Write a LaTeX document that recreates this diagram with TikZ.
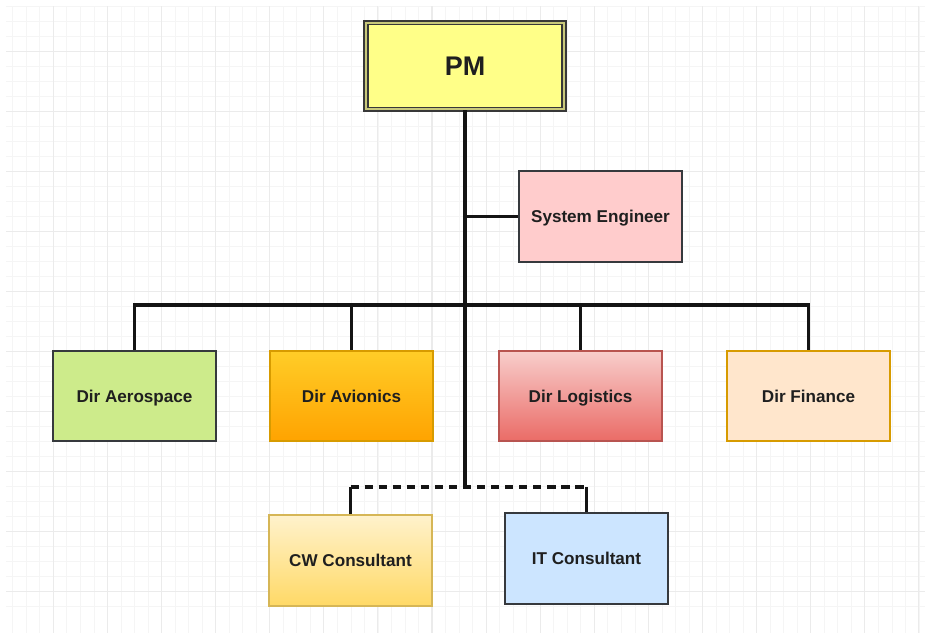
\documentclass[tikz,border=0pt]{standalone}
\usepackage{fontspec}
\setmainfont{Liberation Sans}
\begin{document}
\begin{tikzpicture}[x=0.03cm, y=-0.03cm,
  gridminor/.style={draw=black!4, line width=0.6pt},
  gridmajor/.style={draw=black!8, line width=0.9pt},
  box/.style={rectangle, line width=1.7pt, minimum width=4.89cm, minimum height=2.72cm,
    font=\bfseries\fontsize{14.6}{16}\selectfont, text=black!88, inner sep=2pt,
    text height=10.4pt, text depth=0pt},
  conn/.style={line width=2.7pt, draw=black!92},
  dashconn/.style={conn, dash pattern=on 7pt off 5pt}
]
\definecolor{pmfill}{HTML}{FFFF88}
\definecolor{pmgap}{HTML}{C8C87A}
\definecolor{darkline}{HTML}{36393D}
\definecolor{sysfill}{HTML}{FFCCCC}
\definecolor{aerofill}{HTML}{CDEB8B}
\definecolor{finfill}{HTML}{FFE6CC}
\definecolor{orangeline}{HTML}{D79B00}
\definecolor{redline}{HTML}{B85450}
\definecolor{goldline}{HTML}{D6B656}
\definecolor{itfill}{HTML}{CCE5FF}

% page and background grid
\useasboundingbox (0,0) rectangle (928,636);
\fill[white] (0,0) rectangle (928,636);
\foreach \i in {1,...,68} {
  \pgfmathsetmacro\gx{-0.8+13.525*\i}
  \draw[gridminor] (\gx,6) -- (\gx,633);
}
\foreach \j in {1,...,41} {
  \pgfmathsetmacro\gy{-8.3+15*\j}
  \draw[gridminor] (6,\gy) -- (925,\gy);
}
\foreach \i in {4,8,...,68} {
  \pgfmathsetmacro\gx{-0.8+13.525*\i}
  \draw[gridmajor] (\gx,6) -- (\gx,633);
}
\foreach \j in {4,8,...,40} {
  \pgfmathsetmacro\gy{-8.3+15*\j}
  \draw[gridmajor] (6,\gy) -- (925,\gy);
}

% boxes
\node[box, draw=black!78, double=pmgap, double distance=1.8pt, line width=1.4pt,
  fill=pmfill, minimum width=5.95cm, minimum height=2.6cm,
  font=\bfseries\fontsize{23}{26}\selectfont, text height=16.4pt] (pm) at (465,66) {PM};
\node[box, draw=darkline, fill=sysfill] (sys) at (600.5,216.5) {System Engineer};

\node[box, draw=darkline, fill=aerofill] (aero) at (134.5,396) {Dir Aerospace};
\node[box, draw=orangeline, top color={rgb,255:red,255;green,205;blue,40},
  bottom color={rgb,255:red,255;green,163;blue,0}] (avi) at (351.5,396) {Dir Avionics};
\node[box, draw=redline, top color={rgb,255:red,248;green,206;blue,204},
  bottom color={rgb,255:red,234;green,107;blue,102}] (log) at (580.5,396) {Dir Logistics};
\node[box, draw=orangeline, fill=finfill] (fin) at (808.5,396) {Dir Finance};

\node[box, draw=goldline, top color={rgb,255:red,255;green,242;blue,204},
  bottom color={rgb,255:red,255;green,217;blue,102}] (cw) at (350.5,560.5) {CW Consultant};
\node[box, draw=darkline, fill=itfill] (it) at (586.5,558.5) {IT Consultant};

% connectors
\coordinate (bus) at (465,305);
\coordinate (jc) at (465,487);
\coordinate (dl) at (350.5,487);
\coordinate (dr) at (586.5,487);

\draw[conn] (pm.south) -- (jc);
\draw[conn] (sys.west) -- (sys.west -| pm.south);
\draw[conn] (aero.north) |- (bus) -| (fin.north);
\draw[conn] (avi.north) |- (bus);
\draw[conn] (log.north) |- (bus);
\draw[dashconn] (dl) -- (dr);
\draw[conn] (cw.north) -- (dl);
\draw[conn] (it.north) -- (dr);
\end{tikzpicture}
\end{document}
